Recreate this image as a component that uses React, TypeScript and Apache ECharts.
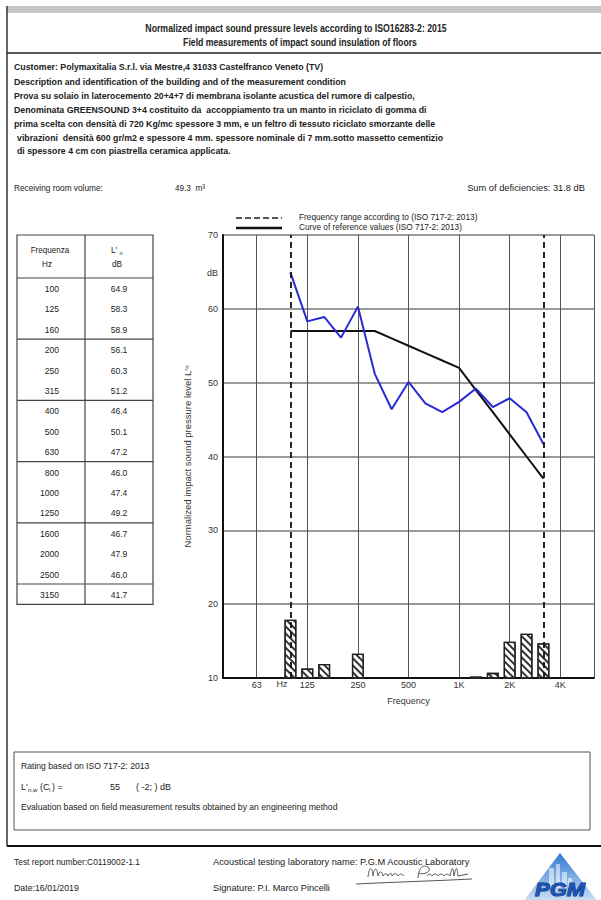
import React, { useEffect, useRef } from 'react';
import * as echarts from 'echarts';

// ---------- data ----------
const bandLabels = ['40', '50', '63', '80', '100', '125', '160', '200', '250', '315', '400', '500', '630', '800', '1000', '1250', '1600', '2000', '2500', '3150', '4000', '5000', '6300'];
const octaveBands = ['63', '125', '250', '500', '1000', '2000', '4000'];
const octaveTickLabels = ['63', '125', '250', '500', '1K', '2K', '4K'];
const freqs = ['100', '125', '160', '200', '250', '315', '400', '500', '630', '800', '1000', '1250', '1600', '2000', '2500', '3150'];
const measured = [64.9, 58.3, 58.9, 56.1, 60.3, 51.2, 46.4, 50.1, 47.2, 46.0, 47.4, 49.2, 46.7, 47.9, 46.0, 41.7];
const reference = [57, 57, 57, 57, 57, 57, 56, 55, 54, 53, 52, 49, 46, 43, 40, 37];
const deficiency = [7.9, 1.3, 1.9, 0, 3.3, 0, 0, 0, 0, 0, 0, 0.2, 0.7, 4.9, 6.0, 4.7];
const rangeLimits = ['100', '3150'];
const yMin = 10;
const yMax = 70;

const titleLines = [
  'Normalized impact sound pressure levels according to ISO16283-2: 2015',
  'Field measurements of impact sound insulation of floors',
];
const descLines = [
  'Customer: Polymaxitalia S.r.l. via Mestre,4 31033 Castelfranco Veneto (TV)',
  'Description and identification of the building and of the measurement condition',
  'Prova su solaio in laterocemento 20+4+7 di membrana isolante acustica del rumore di calpestio,',
  'Denominata GREENSOUND 3+4 costituito da  accoppiamento tra un manto in riciclato di gomma di',
  'prima scelta con densità di 720 Kg/mc spessore 3 mm, e un feltro di tessuto riciclato smorzante delle',
  'vibrazioni  densità 600 gr/m2 e spessore 4 mm. spessore nominale di 7 mm.sotto massetto cementizio',
  'di spessore 4 cm con piastrella ceramica applicata.',
];
const ratingLine = 'Rating based on ISO 717-2: 2013';
const evalLine = 'Evaluation based on field measurement results obtained by an engineering method';

const FONT = '"Liberation Sans", Arial, Helvetica, sans-serif';

const sigD =
  'M14 13 C15 3 18 1 19 12 C20 4 23 2 24 12 C25 7 28 6 29 12 C31 9 33 9 34 12 C36 8 38 9 38 12 C40 9 43 9 44 12 C46 9 48 10 50 12 ' +
  'M64 14 C65 2 70 0 75 4 C77 9 68 11 65 9 M73 12 C75 9 77 10 78 12 C80 9 83 10 84 12 C86 9 89 10 90 12 C92 9 95 10 96 12 ' +
  'C98 2 99 2 100 12 C102 2 103 2 104 12 L114 10 M2 20 C40 18 80 17 118 15';
echarts.graphic.registerShape('signature', echarts.graphic.extendPath(sigD, {}));

let measureCtx: CanvasRenderingContext2D | null = null;
function measure(text: string, size: number, bold: boolean, italic = false) {
  if (!measureCtx) measureCtx = document.createElement('canvas').getContext('2d');
  if (!measureCtx) return text.length * size * 0.5;
  measureCtx.font = `${italic ? 'italic ' : ''}${bold ? 'bold ' : ''}${size}px ${FONT}`;
  return measureCtx.measureText(text).width || text.length * size * 0.5;
}

function txt(text: string, x: number, y: number, o: any = {}) {
  const align = o.align ?? 'left';
  const size = o.size ?? 9;
  let sx = o.sx ?? 0.92;
  if (o.w) sx = o.w / measure(text, size, !!o.bold, !!o.italic);
  return {
    type: 'text',
    x,
    y,
    scaleX: sx,
    z: 10,
    silent: true,
    style: {
      text,
      fontSize: size,
      fontWeight: o.bold ? 'bold' : 'normal',
      fontStyle: o.italic ? 'italic' : 'normal',
      fontFamily: FONT,
      fill: o.color ?? '#222',
      align,
      textAlign: align,
      verticalAlign: 'middle',
      textVerticalAlign: 'middle',
      stroke: o.stroke,
      lineWidth: o.stroke ? 1 : 0,
    },
  };
}
function hline(x1: number, x2: number, y: number, w = 1, color = '#222', dash?: number[]) {
  return { type: 'line', z: 9, silent: true, shape: { x1, y1: y, x2, y2: y }, style: { stroke: color, lineWidth: w, lineDash: dash } };
}
function vline(x: number, y1: number, y2: number, w = 1, color = '#222') {
  return { type: 'line', z: 9, silent: true, shape: { x1: x, y1, x2: x, y2 }, style: { stroke: color, lineWidth: w } };
}

function buildGraphics() {
  const g: any[] = [];
  // page frame
  g.push({ type: 'rect', z: 8, silent: true, shape: { x: 7, y: 6, width: 594, height: 7 }, style: { fill: '#c6c6c6' } });
  g.push(vline(7, 6, 846, 1.5, '#333'));
  g.push(hline(7, 601, 53, 1.5, '#222'));
  g.push(hline(7, 601, 846, 2, '#111'));
  // titles
  g.push(txt(titleLines[0], 296, 28, { bold: true, size: 10, align: 'center', w: 302 }));
  g.push(txt(titleLines[1], 300, 43, { bold: true, size: 10, align: 'center', w: 234 }));
  // description (one common horizontal scale, set by the longest line)
  const descSx = 422 / measure(descLines[4], 9, true);
  const dy = [67, 82, 96, 110, 124, 138, 151];
  const dx = [14, 14, 14, 14, 14, 17, 17];
  descLines.forEach((l, i) => g.push(txt(l, dx[i], dy[i], { bold: true, size: 9, sx: descSx })));
  // receiving room & sum
  g.push(txt('Receiving room volume:', 14, 188, { size: 9, w: 89 }));
  g.push(txt('49.3  m³', 175, 188, { size: 9, w: 30 }));
  g.push(txt('Sum of deficiencies: 31.8 dB', 585, 188, { size: 9, align: 'right', w: 118 }));
  // legend
  g.push(hline(236, 282, 218, 1.5, '#222', [6, 3]));
  g.push(hline(236, 282, 228, 2.5, '#111'));
  g.push(txt('Frequency range according to (ISO 717-2: 2013)', 299, 216.5, { size: 8.5, w: 179 }));
  g.push(txt('Curve of reference values (ISO 717-2: 2013)', 299, 226.5, { size: 8.5, w: 163 }));
  // table
  const tX0 = 17, tX1 = 153, tXm = 85, tY0 = 235, tH = 278, rowH = 20.4;
  const tY1 = tH + rowH * freqs.length;
  g.push({ type: 'rect', z: 9, silent: true, shape: { x: tX0, y: tY0, width: tX1 - tX0, height: tY1 - tY0 }, style: { fill: 'none', stroke: '#444', lineWidth: 1.2 } });
  g.push(vline(tXm, tY0, tY1, 1.2, '#444'));
  for (let k = 0; k < freqs.length; k += 3) g.push(hline(tX0, tX1, tH + k * rowH, 1.2, '#444'));
  g.push(txt('Frequenza', 50, 250, { size: 9, align: 'center', sx: 0.9 }));
  g.push(txt('Hz', 47, 264, { size: 9, align: 'center', sx: 0.9 }));
  g.push(txt("L'", 111, 250, { size: 9 }));
  g.push(txt('n', 119.5, 253, { size: 6 }));
  g.push(txt('dB', 117, 264, { size: 9, align: 'center' }));
  freqs.forEach((f, i) => {
    const y = tH + (i + 0.5) * rowH + 0.8;
    g.push(txt(f, 59, y, { size: 9, align: 'right', sx: 0.95 }));
    g.push(txt(measured[i].toFixed(1), 119, y, { size: 9, align: 'center', sx: 0.95 }));
  });
  // axis extras
  g.push(txt('dB', 218, 273, { size: 9, align: 'right', color: '#333', sx: 1 }));
  g.push(txt('Hz', 282, 684, { size: 9, align: 'center', color: '#333', sx: 1 }));
  // rating box
  const evalSx = 317 / measure(evalLine, 9, false);
  g.push({ type: 'rect', z: 9, silent: true, shape: { x: 14, y: 752, width: 576, height: 78 }, style: { fill: 'none', stroke: '#555', lineWidth: 1 } });
  g.push(txt(ratingLine, 21, 766, { size: 9, sx: evalSx }));
  g.push(txt("L'", 21, 787, { size: 9, sx: 1 }));
  g.push(txt('n,w', 28, 790, { size: 6, sx: 1 }));
  g.push(txt('(C', 40, 787, { size: 9, sx: 1 }));
  g.push(txt('i', 49, 790, { size: 6, sx: 1 }));
  g.push(txt(') =', 52, 787, { size: 9, sx: 1 }));
  g.push(txt('55', 110, 787, { size: 9, sx: 1 }));
  g.push(txt('( -2; ) dB', 136, 787, { size: 9, sx: 1 }));
  g.push(txt(evalLine, 21, 807, { size: 9, sx: evalSx }));
  // footer
  g.push(txt('Test report number:C0119002-1.1', 14, 862, { size: 9, w: 126 }));
  g.push(txt('Date:16/01/2019', 14, 888, { size: 9, w: 65 }));
  g.push(txt('Acoustical testing laboratory name: P.G.M Acoustic Laboratory', 213, 862, { size: 9, w: 257 }));
  g.push(txt('Signature: P.I. Marco Pincelli', 213, 888, { size: 9, w: 117 }));
  g.push({ type: 'signature', x: 354, y: 864, z: 9, silent: true, style: { fill: 'none', stroke: '#555', lineWidth: 1 } });
  // logo
  g.push({
    type: 'polygon', z: 9, silent: true,
    shape: { points: [[523, 902], [560, 853], [598, 902]] },
    style: {
      fill: { type: 'linear', x: 0, y: 0, x2: 0, y2: 1, colorStops: [{ offset: 0, color: '#2f78d2' }, { offset: 1, color: '#cfe2f6' }] },
    },
  });
  [[549, 868, 5, 20], [556, 864, 4, 24], [562, 872, 5, 16], [568, 878, 4, 10]].forEach(([x, y, w, h]) =>
    g.push({ type: 'rect', z: 9, silent: true, shape: { x, y, width: w, height: h }, style: { fill: 'rgba(255,255,255,0.55)' } })
  );
  g.push(txt('PGM', 560, 889, { size: 19, bold: true, italic: true, align: 'center', color: '#1d56b8', sx: 1.15, stroke: '#0d2f73' }));
  return g;
}

function band(arr: number[], fn: (v: number) => number | null) {
  return bandLabels.map((b) => {
    const i = freqs.indexOf(b);
    return i >= 0 ? fn(arr[i]) : null;
  });
}

export default function App() {
  const ref = useRef<HTMLDivElement>(null);
  useEffect(() => {
    if (!ref.current) return;
    const chart = echarts.init(ref.current, undefined, { renderer: 'svg' });
    chart.setOption({
      animation: false,
      backgroundColor: '#fff',
      textStyle: { fontFamily: FONT },
      grid: { left: 223, top: 235, right: 7, bottom: 222, containLabel: false },
      xAxis: {
        type: 'category',
        data: bandLabels,
        boundaryGap: false,
        axisLine: { show: true, lineStyle: { color: '#111', width: 2 } },
        axisTick: { show: false },
        axisLabel: {
          interval: (_i: number, v: string) => octaveBands.includes(v),
          formatter: (v: string) => {
            const k = octaveBands.indexOf(v);
            return k >= 0 ? octaveTickLabels[k] : '';
          },
          fontSize: 9,
          color: '#333',
          margin: 2,
        },
        splitLine: {
          show: true,
          interval: (i: number, v: string) => octaveBands.includes(v) || i === bandLabels.length - 1,
          lineStyle: { color: '#555', width: 1 },
        },
        name: 'Frequency',
        nameLocation: 'middle',
        nameGap: 18,
        nameTextStyle: { fontSize: 9, color: '#333' },
      },
      yAxis: {
        type: 'value',
        min: yMin,
        max: yMax,
        interval: 10,
        axisLine: { show: true, lineStyle: { color: '#111', width: 2 } },
        axisTick: { show: false },
        axisLabel: { fontSize: 9, color: '#333', margin: 5 },
        splitLine: { show: true, lineStyle: { color: '#777', width: 1.5 } },
        name: "Normalized impact sound pressure level L'{s|n}",
        nameLocation: 'middle',
        nameGap: 31,
        nameRotate: 90,
        nameTextStyle: { fontSize: 9.5, color: '#333', rich: { s: { fontSize: 6, color: '#333' } } },
      },
      series: [
        {
          type: 'bar',
          name: 'Deficiency',
          data: band(deficiency, (d) => (d > 0 ? yMin + d : null)),
          barWidth: 12,
          clip: true,
          z: 2,
          itemStyle: {
            color: '#fff',
            borderColor: '#222',
            borderWidth: 1.3,
            decal: { symbol: 'rect', symbolSize: 1, dashArrayX: [1, 0], dashArrayY: [1.2, 2.8], rotation: Math.PI / 4, color: '#333' },
          },
        },
        {
          type: 'line',
          name: 'Reference',
          data: band(reference, (v) => v),
          symbol: 'none',
          z: 3,
          lineStyle: { color: '#111', width: 2 },
          markLine: {
            silent: true,
            symbol: 'none',
            label: { show: false },
            lineStyle: { color: '#111', type: [6, 4], width: 1.8 },
            data: rangeLimits.map((f) => ({ xAxis: bandLabels.indexOf(f) })),
          },
        },
        {
          type: 'line',
          name: 'Measured',
          data: band(measured, (v) => v),
          symbol: 'none',
          z: 4,
          lineStyle: { color: '#2a2ad2', width: 2 },
        },
      ],
      graphic: { elements: buildGraphics() },
    });
    return () => chart.dispose();
  }, []);
  return <div ref={ref} style={{ position: 'absolute', left: 0, top: 0, width: 601, height: 900 }} />;
}
